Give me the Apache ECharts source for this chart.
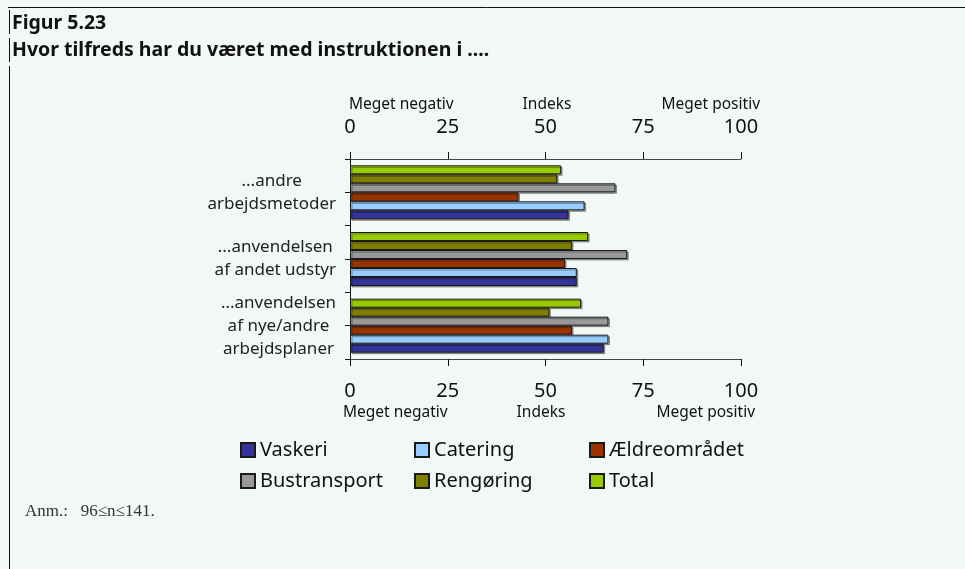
<!DOCTYPE html>
<html>
<head>
<meta charset="utf-8">
<script src="https://cdn.jsdelivr.net/npm/echarts@6/dist/echarts.min.js"></script>
<style>
  html, body { margin: 0; padding: 0; background: #f2f8f6; }
  #chart { width: 965px; height: 569px; }
</style>
</head>
<body>
<div id="chart"></div>
<script>
// categories listed bottom to top (category axis grows upward)
var categories = [
  '...anvendelsen\naf nye/andre\narbejdsplaner',
  '...anvendelsen\naf andet udstyr',
  '...andre\narbejdsmetoder'
];
var seriesNames = ['Vaskeri', 'Catering', 'Ældreområdet', 'Bustransport', 'Rengøring', 'Total'];
var seriesColors = ['#333399', '#99ccff', '#993300', '#999999', '#808000', '#99cc00'];

var vaskeri      = [64.9, 58.0, 55.9];
var catering     = [66.1, 58.0, 60.0];
var aeldre       = [56.8, 55.0, 43.1];
var bustransport = [66.1, 70.9, 67.9];
var rengoring    = [51.0, 56.8, 53.0];
var total        = [59.1, 60.9, 54.0];
var seriesData = [vaskeri, catering, aeldre, bustransport, rengoring, total];

var xTicks = [0, 25, 50, 75, 100];

var chart = echarts.init(document.getElementById('chart'));

var font = '"Noto Sans", sans-serif';

// first series is drawn at the top of each group, so build them from Total down to Vaskeri
var series = seriesNames.map(function (name, i) {
  return {
    name: name,
    type: 'bar',
    yAxisIndex: 0,
    barWidth: 9,
    barGap: '0%',
    data: seriesData[i],
    itemStyle: {
      color: seriesColors[i],
      borderColor: '#1a1a1a',
      borderWidth: 1,
      shadowColor: 'rgba(0,0,0,0.35)',
      shadowOffsetX: 1.5,
      shadowOffsetY: 1.5,
      shadowBlur: 0
    }
  };
}).reverse();

function xAxisConf(pos, margin) {
  return {
    type: 'value',
    position: pos,
    min: xTicks[0],
    max: xTicks[xTicks.length - 1],
    interval: 25,
    splitLine: { show: false },
    axisLine: { show: true, lineStyle: { color: '#444', width: 1 } },
    axisTick: { show: true, length: 7, lineStyle: { color: '#111' } },
    axisLabel: { fontSize: 20, color: '#111', fontFamily: font, margin: margin }
  };
}

// one legend per column so the columns line up like the original
function legendCol(names, left) {
  return {
    left: left,
    top: 440,
    orient: 'vertical',
    padding: 0,
    data: names,
    icon: 'rect',
    itemWidth: 14,
    itemHeight: 14,
    itemGap: 11,
    textStyle: { fontSize: 20, color: '#111', fontFamily: font }
  };
}

var option = {
  backgroundColor: '#f2f8f6',
  animation: false,
  textStyle: { fontFamily: font },
  grid: { left: 350, top: 159, width: 391, height: 200, containLabel: false },
  xAxis: [xAxisConf('bottom', 22), xAxisConf('top', 22)],
  yAxis: [
    {
      type: 'category',
      position: 'left',
      data: categories,
      axisLine: { show: true, onZero: false, lineStyle: { color: '#111' } },
      axisTick: { show: true, length: 5, lineStyle: { color: '#111' } },
      axisLabel: {
        margin: 14,
        color: '#222',
        fontSize: 17,
        lineHeight: 23,
        formatter: function (v) {
          return v.split('\n').map(function (s) { return '{c|' + s + '}'; }).join('\n');
        },
        rich: { c: { align: 'center', fontSize: 17, lineHeight: 23, color: '#222', fontFamily: font } }
      }
    },
    {
      type: 'category',
      position: 'left',
      data: categories,
      axisLine: { show: false },
      axisTick: { show: true, alignWithLabel: true, length: 5, lineStyle: { color: '#111' } },
      axisLabel: { show: false }
    }
  ],
  legend: [
    legendCol([seriesNames[0], seriesNames[3]], 240),
    legendCol([seriesNames[1], seriesNames[4]], 414),
    legendCol([seriesNames[2], seriesNames[5]], 589)
  ],
  graphic: [
    { type: 'line', shape: { x1: 8, y1: 7.5, x2: 965, y2: 7.5 }, style: { stroke: '#111', lineWidth: 1 } },
    { type: 'line', shape: { x1: 9.5, y1: 10, x2: 9.5, y2: 34 }, style: { stroke: '#111', lineWidth: 1 } },
    { type: 'line', shape: { x1: 9.5, y1: 38, x2: 9.5, y2: 62 }, style: { stroke: '#111', lineWidth: 1 } },
    { type: 'line', shape: { x1: 9.5, y1: 66, x2: 9.5, y2: 569 }, style: { stroke: '#111', lineWidth: 1 } },
    { type: 'text', x: 12, y: 23, style: { text: 'Figur 5.23', font: 'bold 19.5px "Noto Sans"', fill: '#111', verticalAlign: 'middle' } },
    { type: 'text', x: 12, y: 50, style: { text: 'Hvor tilfreds har du været med instruktionen i ....', font: 'bold 19.5px "Noto Sans"', fill: '#111', verticalAlign: 'middle' } },
    { type: 'text', x: 349, y: 105, style: { text: 'Meget negativ', font: '15.5px "Noto Sans"', fill: '#111', align: 'left', verticalAlign: 'middle' } },
    { type: 'text', x: 547, y: 105, style: { text: 'Indeks', font: '15.5px "Noto Sans"', fill: '#111', align: 'center', verticalAlign: 'middle' } },
    { type: 'text', x: 760, y: 105, style: { text: 'Meget positiv', font: '15.5px "Noto Sans"', fill: '#111', align: 'right', verticalAlign: 'middle' } },
    { type: 'text', x: 343, y: 413, style: { text: 'Meget negativ', font: '15.5px "Noto Sans"', fill: '#111', align: 'left', verticalAlign: 'middle' } },
    { type: 'text', x: 541, y: 413, style: { text: 'Indeks', font: '15.5px "Noto Sans"', fill: '#111', align: 'center', verticalAlign: 'middle' } },
    { type: 'text', x: 755, y: 413, style: { text: 'Meget positiv', font: '15.5px "Noto Sans"', fill: '#111', align: 'right', verticalAlign: 'middle' } },
    { type: 'text', x: 25, y: 512, style: { text: 'Anm.:   96≤n≤141.', font: '17px "Liberation Serif"', fill: '#333', align: 'left', verticalAlign: 'middle' } }
  ],
  series: series
};

chart.setOption(option);
</script>
</body>
</html>
